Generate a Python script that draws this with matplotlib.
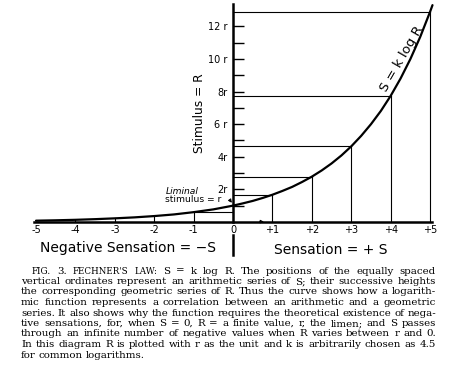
import matplotlib
matplotlib.use('Agg')
import matplotlib.pyplot as plt

# curve S = k log R (R in units of r)
sensation = [-5, -4.5, -4, -3.5, -3, -2.5, -2, -1.5, -1, -0.5, 0,
             0.25, 0.5, 0.75, 1, 1.25, 1.5, 1.75, 2, 2.25, 2.5, 2.75,
             3, 3.25, 3.5, 3.75, 4, 4.25, 4.5, 4.75, 5, 5.06]
stimulus = [0.077, 0.10, 0.13, 0.17, 0.22, 0.28, 0.36, 0.46, 0.60, 0.77, 1.0,
            1.14, 1.29, 1.47, 1.67, 1.90, 2.15, 2.45, 2.78, 3.16, 3.59, 4.08,
            4.64, 5.28, 6.0, 6.81, 7.74, 8.8, 10.0, 11.36, 12.9, 13.3]

# equally spaced ordinates
neg_s = [-4, -3, -2, -1]
neg_r = [0.13, 0.22, 0.36, 0.60]
pos_s = [1, 2, 3, 4, 5]
pos_r = [1.67, 2.78, 4.64, 7.74, 12.9]

x_ticks = [-5, -4, -3, -2, -1, 0, 1, 2, 3, 4, 5]
x_labels = ['-5', '-4', '-3', '-2', '-1', '0', '+1', '+2', '+3', '+4', '+5']
y_ticks = [1, 2, 3, 4, 5, 6, 7, 8, 9, 10, 11, 12]
y_labels = ['', '2r', '', '4r', '', '6 r', '', '8r', '', '10 r', '', '12 r']

caption = [
    "FIG. 3. FECHNER'S LAW: S = k log R. The positions of the equally spaced",
    "vertical ordinates represent an arithmetic series of S; their successive heights",
    "the corresponding geometric series of R. Thus the curve shows how a logarith-",
    "mic function represents a correlation between an arithmetic and a geometric",
    "series. It also shows why the function requires the theoretical existence of nega-",
    "tive sensations, for, when S = 0, R = a finite value, r, the limen; and S passes",
    "through an infinite number of negative values when R varies between r and 0.",
    "In this diagram R is plotted with r as the unit and k is arbitrarily chosen as 4.5",
    "for common logarithms.",
]
small_caps = {"FIG.", "FECHNER'S", "LAW:"}

W, H = 453, 371
fig = plt.figure(figsize=(W / 100, H / 100), dpi=100)
fig.patch.set_facecolor('white')
ax = fig.add_axes([0.036, 0.270, 0.957, 0.7293])
ax.set_xlim(-5.5, 5.5)
ax.set_ylim(-3, 13.6)
ax.patch.set_alpha(0)

for side in ['top', 'right']:
    ax.spines[side].set_visible(False)
ax.spines['left'].set_position(('data', 0))
ax.spines['left'].set_bounds(0, 13.4)
ax.spines['left'].set_linewidth(1.8)
ax.spines['bottom'].set_position(('data', 0))
ax.spines['bottom'].set_bounds(-5.05, 5.05)
ax.spines['bottom'].set_linewidth(1.8)

ax.set_xticks(x_ticks, x_labels)
ax.tick_params(axis='x', length=0, pad=2, labelsize=7)
ax.set_yticks(y_ticks, y_labels)
ax.tick_params(axis='y', direction='in', length=8, width=1, pad=4, labelsize=7)

# curve
ax.plot(sensation, stimulus, color='black', lw=1.6, clip_on=False,
        solid_capstyle='round', solid_joinstyle='round')

# ordinates and horizontals
for s, r in zip(neg_s, neg_r):
    ax.plot([s, s], [0, r], color='black', lw=0.8)
ax.plot([neg_s[-1], 0], [neg_r[-1], neg_r[-1]], color='black', lw=0.8)
for s, r in zip(pos_s, pos_r):
    ax.plot([s, s], [0, r], color='black', lw=0.8)
    ax.plot([0, s], [r, r], color='black', lw=0.8)

# lower part of the zero line
ax.plot([0, 0], [-0.8, -2.0], color='black', lw=1.8, clip_on=False)
ax.annotate('', xy=(0.85, 0.02), xytext=(0.6, 0.02),
            arrowprops=dict(arrowstyle='-|>', color='black', lw=0.6,
                            mutation_scale=5))

ax.text(-0.84, 6.7, 'Stimulus = R', rotation=90, ha='center', va='center',
        fontsize=8.8)
ax.text(4.27, 10.0, 'S = k log R', rotation=60, ha='center', va='center',
        fontsize=9.5)
ax.text(-1.3, 1.84, 'Liminal', ha='center', va='center', fontsize=6.6,
        style='italic')
ax.text(-1.0, 1.35, 'stimulus = r', ha='center', va='center', fontsize=6.6)
ax.annotate('', xy=(0, 1.02), xytext=(-0.15, 1.35),
            arrowprops=dict(arrowstyle='-|>', color='black', lw=0.7,
                            mutation_scale=5, connectionstyle='arc3,rad=-0.3'))
ax.text(-2.66, -1.6, 'Negative Sensation = \u2212S', ha='center', va='center',
        fontsize=10)
ax.text(2.49, -1.72, 'Sensation = + S', ha='center', va='center', fontsize=10)

# justified caption
renderer = fig.canvas.get_renderer()
for i, line in enumerate(caption):
    words = line.split()
    y = 1 - (271 + 10.5 * i) / H
    x0 = 32 if i == 0 else 21
    x1 = 436
    texts = []
    for w in words:
        size = 6.3 if w in small_caps else 7.4
        texts.append(fig.text(0, y, w, fontsize=size, family='DejaVu Serif',
                              va='center', ha='left'))
    widths = [t.get_window_extent(renderer).width for t in texts]
    if i == len(caption) - 1:
        gap = 3
    else:
        gap = (x1 - x0 - sum(widths)) / (len(words) - 1)
    x = x0
    for t, w in zip(texts, widths):
        t.set_x(x / W)
        x += w + gap

fig.savefig('out.png', dpi=100)
